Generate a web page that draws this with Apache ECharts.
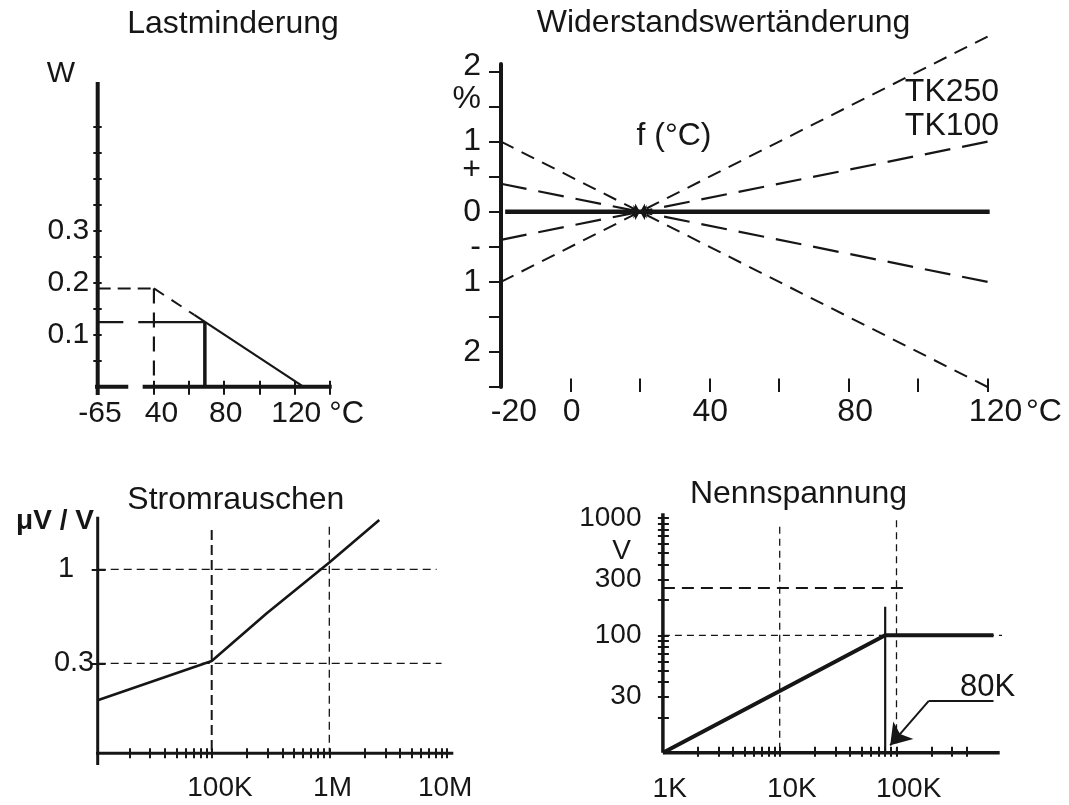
<!DOCTYPE html>
<html>
<head>
<meta charset="utf-8">
<script src="https://cdn.jsdelivr.net/npm/echarts@6/dist/echarts.min.js"></script>
<style>
html,body{margin:0;padding:0;background:#fff;}
#c{width:1069px;height:805px;}
</style>
</head>
<body>
<div id="c"></div>
<script>
// ================= DATA =================
// --- Chart 1: Lastminderung (W over °C) ---
const lastXTicks = [40, 60, 80, 100, 120, 140];
const lastXLabelPos = [9.3, 44.3, 80.9, 121];
const lastXLabelText = ['-65', '40', '80', '120'];
const lastYTicks = [0.05, 0.1, 0.15, 0.2, 0.25, 0.3, 0.35, 0.4, 0.45, 0.5];
const lastYLabelPos = [0.1, 0.2, 0.3];
const lastYLabelText = ['0.1', '0.2', '0.3'];
const lastMaxH = [[8, 0.189], [40, 0.189]];
const lastMaxV = [[40, 0.189], [40, 0]];
const lastDerateDashed = [[40, 0.189], [63, 0.138]];
const lastDerateSolid = [[63, 0.138], [125, 0]];
const lastRatedH1 = [[8, 0.124], [22.6, 0.124]];
const lastRatedH2 = [[31.1, 0.124], [69, 0.124]];
const lastRatedV = [[69, 0.124], [69, 0]];

// --- Chart 2: Widerstandswertänderung (% over °C) ---
const tkTemps = [-20, 20, 120];
const tk250Rise = [-1, 0, 2.5];
const tk250Fall = [1, 0, -2.5];
const tk100Rise = [-0.4, 0, 1.0];
const tk100Fall = [0.4, 0, -1.0];
const tkRefLine = [[-18.8, 0], [120.6, 0]];
const tkYTicks = [-2.5, -2, -1.5, -1, -0.5, 0, 0.5, 1, 1.5, 2];
const tkYLabelPos = [2.07, 1.6, 1, 0.6, 0, -0.5, -1, -2];
const tkYLabelText = ['2', '%', '1', '+', '0', '-', '1', '2'];
const tkXTicks = [0, 20, 40, 60, 80, 100, 120];
const tkXLabelPos = [-16.3, 0.3, 40.2, 81.9, 122.3];
const tkXLabelText = ['-20', '0', '40', '80', '120'];

// --- Chart 3: Stromrauschen (µV/V over Ohm) ---
const noiseR = [10730, 100000, 294000, 1000000, 2660000];
const noiseV = [0.187, 0.309, 0.57, 1.09, 1.88];
const noiseGridV100K = [[100000, 1.654], [100000, 0.0947]];
const noiseGridV1M = [[1000000, 1.726], [1000000, 0.0947]];
const noiseGridH1 = [[10730, 1], [8180000, 1]];
const noiseGridH03 = [[10730, 0.3], [9000000, 0.3]];
const noiseXTicks = [20000, 30000, 40000, 50000, 60000, 70000, 80000, 90000,
  100000, 200000, 300000, 400000, 500000, 600000, 700000, 800000, 900000,
  1000000, 2000000, 3000000, 4000000, 5000000, 6000000, 7000000, 8000000, 9000000, 10000000];
const noiseXLabelPos = [117600, 1065000, 9670000];
const noiseXLabelText = ['100K', '1M', '10M'];
const noiseYTicks = [0.3, 1];
const noiseYLabelPos = [0.3, 1];
const noiseYLabelText = ['0.3', '1'];

// --- Chart 4: Nennspannung (V over Ohm) ---
const voltCurve = [[1000, 10], [80000, 100], [677000, 100]];
const voltLimitV = [[80000, 175], [80000, 10]];
const voltMaxDashed = [[1000, 253], [116000, 253]];
const voltGridV10K = [[10000, 840], [10000, 10]];
const voltGridV100K = [[100000, 955], [100000, 9.24]];
const voltGridH100 = [[1000, 100], [850000, 100]];
const voltArrowTail = [[677000, 27.6], [189000, 27.6]];
const voltArrowHead = [[189000, 27.6], [88300, 11.56]];
const voltXTicks = [2000, 3000, 4000, 5000, 6000, 7000, 8000, 9000, 10000,
  20000, 30000, 40000, 50000, 60000, 70000, 80000, 90000, 100000, 200000, 300000, 400000];
const voltXLabelPos = [1144, 12700, 127000];
const voltXLabelText = ['1K', '10K', '100K'];
const voltYTicks = [20, 30, 40, 50, 60, 70, 80, 90, 100, 200, 300, 400, 500, 600, 700, 800, 900, 1000];
const voltYLabelPos = [1000, 300, 100, 30];
const voltYLabelText = ['1000', '300', '100', '30'];

// ================= RENDER =================
const FONT = '"Liberation Sans", Arial, Helvetica, sans-serif';
const INK = '#161616';

function zip(xs, ys) { return xs.map((x, i) => [x, ys[i]]); }

function lookup(vals, texts, isLog) {
  return function (v) {
    for (let i = 0; i < vals.length; i++) {
      const t = vals[i];
      const tol = Math.abs(t) * 1e-6 + 1e-9;
      if (Math.abs(v - t) <= tol) return texts[i];
      if (isLog && Math.abs(Math.pow(10, v) - t) <= tol) return texts[i];
    }
    return '';
  };
}

function line(data, idx, w, dash) {
  return {
    type: 'line', xAxisIndex: idx, yAxisIndex: idx, data: data,
    symbol: 'none', clip: false, silent: true, animation: false,
    lineStyle: { color: INK, width: w, type: dash || 'solid', cap: 'butt' }
  };
}

function arrowLines(list, idx, w, dash, size) {
  return {
    type: 'lines', coordinateSystem: 'cartesian2d', xAxisIndex: idx, yAxisIndex: idx,
    clip: false, silent: true, animation: false,
    symbol: ['none', 'arrow'], symbolSize: size,
    lineStyle: { color: INK, width: w, type: dash, opacity: 1, curveness: 0 },
    itemStyle: { color: INK },
    data: list.map(c => ({ coords: c }))
  };
}

function ax(grid, o) {
  return Object.assign({
    gridIndex: grid, splitLine: { show: false }, minorTick: { show: false },
    axisLine: { show: false, onZero: false }
  }, o);
}

const tickStyle = { color: INK, width: 2 };
const labelBase = { color: INK, fontFamily: FONT };

const xAxes = [
  ax(0, { type: 'value', min: 8, max: 140, offset: 8,
    axisTick: { show: true, inside: true, length: 14, lineStyle: tickStyle, customValues: lastXTicks },
    axisLabel: Object.assign({ fontSize: 30, margin: 4.5, customValues: lastXLabelPos,
      formatter: lookup(lastXLabelPos, lastXLabelText) }, labelBase) }),
  ax(1, { type: 'value', min: -20, max: 123, offset: 5,
    axisTick: { show: true, inside: true, length: 13.4, lineStyle: tickStyle, customValues: tkXTicks },
    axisLabel: Object.assign({ fontSize: 32, margin: 4, customValues: tkXLabelPos,
      formatter: lookup(tkXLabelPos, tkXLabelText) }, labelBase) }),
  ax(2, { type: 'log', logBase: 10, min: 10730, max: 11330000, offset: 5,
    axisTick: { show: true, inside: true, length: 10, lineStyle: tickStyle, customValues: noiseXTicks },
    axisLabel: Object.assign({ fontSize: 28, margin: 16, customValues: noiseXLabelPos,
      formatter: lookup(noiseXLabelPos, noiseXLabelText, true) }, labelBase) }),
  ax(3, { type: 'log', logBase: 10, min: 1000, max: 764800, offset: 4,
    axisTick: { show: true, inside: true, length: 10, lineStyle: tickStyle, customValues: voltXTicks },
    axisLabel: Object.assign({ fontSize: 28, margin: 18.5, customValues: voltXLabelPos,
      formatter: lookup(voltXLabelPos, voltXLabelText, true) }, labelBase) })
];

const noiseFmt = lookup(noiseYLabelPos, noiseYLabelText, true);

const yAxes = [
  ax(0, { type: 'value', min: 0, max: 0.586, offset: 4.4,
    axisTick: { show: true, inside: true, length: 8.4, lineStyle: tickStyle, customValues: lastYTicks },
    axisLabel: Object.assign({ fontSize: 30, margin: 4, customValues: lastYLabelPos,
      formatter: lookup(lastYLabelPos, lastYLabelText) }, labelBase) }),
  ax(1, { type: 'value', min: -2.5, max: 2.108,
    axisLine: { show: true, onZero: false, lineStyle: { color: INK, width: 4 } },
    axisTick: { show: true, inside: false, length: 12, lineStyle: tickStyle, customValues: tkYTicks },
    axisLabel: Object.assign({ fontSize: 32, margin: 20, customValues: tkYLabelPos,
      formatter: lookup(tkYLabelPos, tkYLabelText) }, labelBase) }),
  ax(2, { type: 'log', logBase: 10, min: 0.0947, max: 1.962, offset: 6,
    axisTick: { show: true, inside: true, length: 14, lineStyle: tickStyle, customValues: noiseYTicks },
    axisLabel: Object.assign({ fontSize: 29, margin: -2.5, customValues: noiseYLabelPos,
      formatter: function (v) { const t = noiseFmt(v); return t === '1' ? '{one|1}' : t; },
      rich: { one: { fontSize: 29, fontFamily: FONT, color: INK, padding: [0, 20, 0, 0] } } }, labelBase) }),
  ax(3, { type: 'log', logBase: 10, min: 10, max: 1094, offset: 5,
    axisTick: { show: true, inside: true, length: 11, lineStyle: tickStyle, customValues: voltYTicks },
    axisLabel: Object.assign({ fontSize: 28, margin: 16.4, customValues: voltYLabelPos,
      formatter: lookup(voltYLabelPos, voltYLabelText, true) }, labelBase) })
];

const grids = [
  { left: 97.7, top: 82, width: 231.9, height: 304.7 },
  { left: 501, top: 64, width: 497.0, height: 323 },
  { left: 97.7, top: 516.7, width: 355.6, height: 236.6 },
  { left: 662.9, top: 513.3, width: 336.8, height: 239.4 }
].map(g => Object.assign({ containLabel: false, outerBoundsMode: 'none', show: false }, g));

const series = [
  // chart 1 axes (broken x axis)
  line([[8, -0.0159], [8, 0.586]], 0, 4),
  line([[2.65, 0], [25.4, 0]], 0, 4),
  line([[33.6, 0], [141.2, 0]], 0, 4),
  line(lastMaxH, 0, 2, [13, 7]),
  line(lastMaxV, 0, 2.2, [15, 9]),
  line(lastDerateDashed, 0, 2, [12, 9]),
  line(lastDerateSolid, 0, 2.2),
  line(lastRatedH1, 0, 2.2),
  line(lastRatedH2, 0, 2.2),
  line(lastRatedV, 0, 3.5),

  // chart 2
  line(tkRefLine, 1, 4.5),
  arrowLines([
    [[tkTemps[0], tk250Rise[0]], [tkTemps[1], tk250Rise[1]]],
    [[tkTemps[2], tk250Rise[2]], [tkTemps[1], tk250Rise[1]]],
    [[tkTemps[0], tk250Fall[0]], [tkTemps[1], tk250Fall[1]]],
    [[tkTemps[2], tk250Fall[2]], [tkTemps[1], tk250Fall[1]]]
  ], 1, 2, [14, 9], 8),
  arrowLines([
    [[tkTemps[0], tk100Rise[0]], [tkTemps[1], tk100Rise[1]]],
    [[tkTemps[2], tk100Rise[2]], [tkTemps[1], tk100Rise[1]]],
    [[tkTemps[0], tk100Fall[0]], [tkTemps[1], tk100Fall[1]]],
    [[tkTemps[2], tk100Fall[2]], [tkTemps[1], tk100Fall[1]]]
  ], 1, 2.2, [26, 12], 8),

  // chart 3
  line([[10176, 0.0947], [11330000, 0.0947]], 2, 3),
  line([[10730, 0.0816], [10730, 1.962]], 2, 3),
  line(noiseGridH1, 2, 1.3, [8, 5]),
  line(noiseGridH03, 2, 1.3, [8, 5]),
  line(noiseGridV100K, 2, 2, [10, 5]),
  line(noiseGridV1M, 2, 1.3, [8, 5]),
  line(zip(noiseR, noiseV), 2, 2.6),

  // chart 4
  line([[1000, 10], [764800, 10]], 3, 3.5),
  line([[1000, 10], [1000, 1094]], 3, 3.5),
  line(voltGridV10K, 3, 1.3, [7, 5]),
  line(voltGridV100K, 3, 1.3, [7, 5]),
  line(voltGridH100, 3, 1.3, [7, 5]),
  line(voltMaxDashed, 3, 2, [12, 7]),
  line(voltLimitV, 3, 2.2),
  line(voltCurve, 3, 4),
  line(voltArrowTail, 3, 2),
  arrowLines([voltArrowHead], 3, 2, 'solid', 20)
];

function txt(text, x, y, size, weight) {
  return {
    type: 'text', x: x, y: y, silent: true,
    style: { text: text, fill: INK, align: 'center', verticalAlign: 'middle',
      font: (weight || 'normal') + ' ' + size + 'px ' + FONT }
  };
}

const graphics = [
  txt('Lastminderung', 233, 24.2, 32),
  txt('Widerstandswertänderung', 723.5, 23.3, 32),
  txt('Stromrauschen', 235.8, 500, 32),
  txt('Nennspannung', 798.5, 494, 32),
  txt('W', 61, 74, 30),
  txt('°C', 346.7, 414.2, 31),
  txt('f (°C)', 674, 136, 32),
  txt('TK250', 952, 91.7, 32),
  txt('TK100', 952, 125.8, 32),
  txt('°C', 1044, 411.7, 32),
  txt('μV / V', 55, 521.5, 28, 'bold'),
  txt('V', 621.5, 551.7, 28),
  txt('80K', 987.5, 687.5, 31)
];

const chart = echarts.init(document.getElementById('c'), null, { renderer: 'canvas' });
chart.setOption({
  backgroundColor: '#ffffff',
  animation: false,
  textStyle: { fontFamily: FONT },
  grid: grids,
  xAxis: xAxes,
  yAxis: yAxes,
  series: series,
  graphic: graphics
});
</script>
</body>
</html>
